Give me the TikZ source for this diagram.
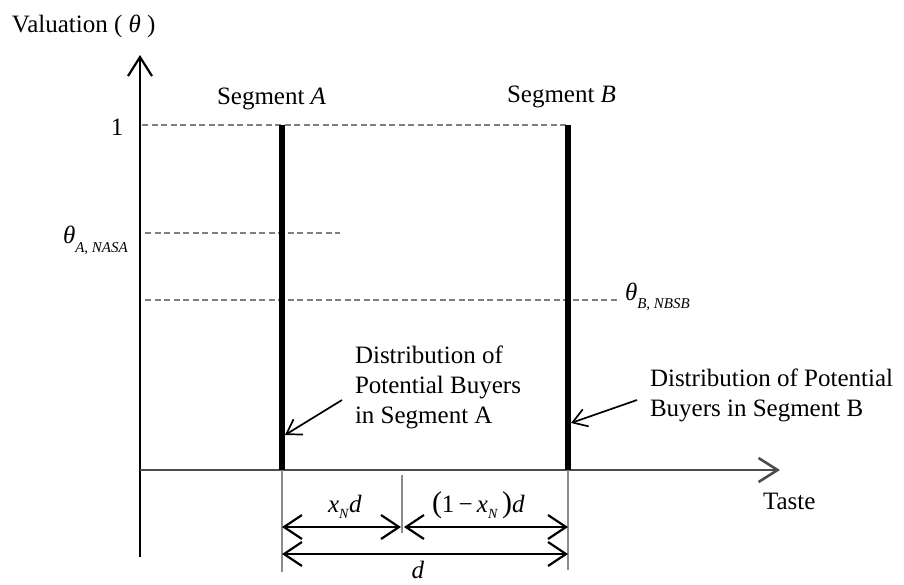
\documentclass[tikz,border=0pt]{standalone}
\usepackage{fontspec}
\setmainfont{Liberation Serif}
\usetikzlibrary{arrows.meta}
\begin{document}
\begin{tikzpicture}[x=1pt,y=-1pt, font=\fontsize{25}{30}\selectfont,
  every node/.style={inner sep=0pt, outer sep=0pt},
  axisline/.style={line width=2.2pt, -{Straight Barb[length=19pt,width=24pt]}},
  seg/.style={line width=5.5pt},
  guide/.style={draw=black!50, line width=2.4pt, dash pattern=on 6pt off 3.5pt},
  ext/.style={draw=black!45, line width=1.6pt},
  dim/.style={line width=2.2pt, {Straight Barb[length=18pt,width=24pt]}-{Straight Barb[length=18pt,width=24pt]}},
  callout/.style={line width=1.7pt, -{Straight Barb[length=14pt,width=18pt]}},
  lbl/.style={anchor=base west}
]
\useasboundingbox (0,0) rectangle (904,584);

% coordinates
\coordinate (ytop) at (140,55);
\coordinate (ybot) at (140,557);
\coordinate (O) at (140,470);
\coordinate (xend) at (780,470);
\coordinate (Atop) at (282,125);
\coordinate (Abot) at (282,470);
\coordinate (Btop) at (568,125);
\coordinate (Bbot) at (568,470);

% guides
\draw[guide] (142,125) -- (Btop);
\draw[guide] (145,233) -- (340,233);
\draw[guide] (145,300) -- (618,300);

% axes
\draw[axisline] (ybot) -- (ytop);
\draw[axisline, draw=black!70, line width=2.6pt] (O) -- (xend);

% segments
\draw[seg] (Atop) -- (Abot);
\draw[seg] (Btop) -- (Bbot);

% labels
\node[lbl] (val) at (12,32) {Valuation ( \textit{θ} )};
\node[anchor=base] (one) at (117,135) {1};
\node[lbl] (segA) at (217,104) {Segment \textit{A}};
\node[lbl] (segB) at (507,102) {Segment \textit{B}};
\node[lbl] (thA) at (63,243) {\textit{θ}\raisebox{-9pt}{\fontsize{15}{15}\selectfont\textit{A, NASA}}};
\node[lbl] (thB) at (625,300) {\textit{θ}\raisebox{-8pt}{\fontsize{15}{15}\selectfont\textit{B, NBSB}}};
\node[lbl] (taste) at (763,509) {Taste};

% text blocks with callouts
\node[anchor=north west, align=left] (txtA) at (355,346) {Distribution of\\Potential Buyers\\in Segment A};
\node[anchor=north west, align=left] (txtB) at (650,369) {Distribution of Potential\\Buyers in Segment B};
\coordinate (cAt) at (342,400);
\coordinate (cAh) at (285,435);
\coordinate (cBt) at (637,400);
\coordinate (cBh) at (571,423);
\draw[callout] (cAt) -- (cAh);
\draw[callout] (cBt) -- (cBh);

% dimensions
\coordinate (eA) at (282,572);
\coordinate (eB) at (568,570);
\coordinate (mT) at (402,475);
\coordinate (mB) at (402,533);
\draw[ext] (Abot) -- (eA);
\draw[ext] (Bbot) -- (eB);
\draw[ext, line width=1.2pt] (mT) -- (mB);
\draw[dim] (282,527) -- (401,527);
\draw[dim] (404,527) -- (568,527);
\draw[dim] (282,554) -- (568,554);

\node[lbl] (xnd) at (328,512) {\textit{x}\raisebox{-6pt}{\fontsize{14}{14}\selectfont\textit{N}}\textit{d}};
\node[lbl] (onemx) at (432,512) {{\fontsize{30}{30}\selectfont(}1\,−\,\textit{x}\raisebox{-6pt}{\fontsize{14}{14}\selectfont\textit{N}}\,{\fontsize{30}{30}\selectfont)}\textit{d}};
\node[anchor=base] (dlab) at (418,578) {\textit{d}};
\end{tikzpicture}
\end{document}
